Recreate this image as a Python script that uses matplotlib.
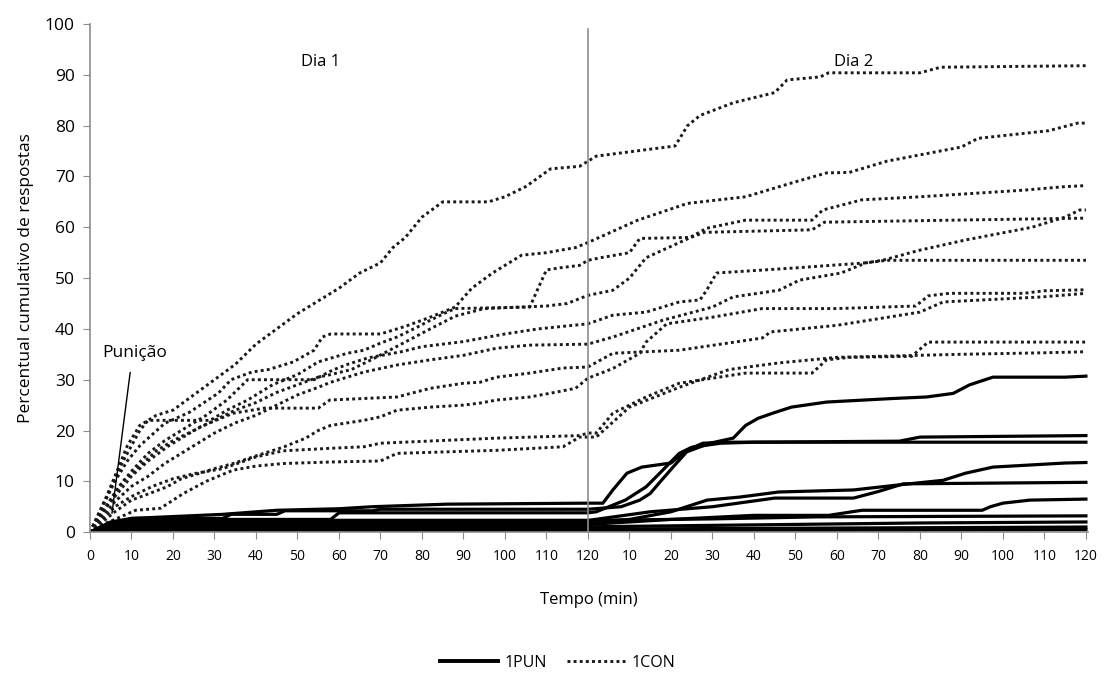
import numpy as np
import matplotlib
matplotlib.use("Agg")
import matplotlib.pyplot as plt

plt.rcParams['font.family'] = ['Open Sans', 'DejaVu Sans']

# eixo x: 0-120 = Dia 1, 120-240 = Dia 2 (min)
xtick_pos = list(range(0, 241, 10))
xtick_lab = [str(v) for v in range(0, 121, 10)] + [str(v) for v in range(10, 121, 10)]
ytick_pos = list(range(0, 101, 10))

# grupo 1CON (linhas pontilhadas)
con_t = [
    [0, 3, 6, 9, 12, 16, 20, 25, 30, 35, 40, 45, 50, 55, 60, 65, 70, 73, 76, 80, 85, 96, 100, 105, 111, 118, 122, 141, 144, 147, 155, 165, 168, 176, 178, 200, 205, 240],
    [0, 3, 6, 9, 12, 18, 24, 31, 34, 39, 43, 49, 54, 56, 58, 70, 76, 82, 88, 92, 97, 104, 110, 117, 120, 132, 144, 158, 169, 177.5, 183, 192, 210, 214, 231, 238, 240],
    [0, 4, 8, 12, 14, 29, 33, 38, 44, 50, 55, 62, 66, 70, 74, 79, 82, 86, 88, 106, 108, 110, 113, 118, 120, 123, 130, 132.5, 144.6, 148.6, 158, 174, 176.6, 186, 200, 225, 235, 240],
    [0, 3, 6, 10, 14, 18, 22, 26, 30, 35, 40, 45, 50, 55, 58, 66, 74, 82, 90, 98, 106, 120, 126, 138, 150, 155, 166, 171, 181, 187, 191, 200, 211, 227, 235, 238.5, 240],
    [0, 4, 8, 12, 16, 20, 25, 30, 35, 40, 45, 50, 55, 58, 63, 68, 75, 82, 88, 95, 110, 115, 120, 126, 130, 134, 138, 144.5, 148, 174, 177, 200, 240],
    [0, 3, 7, 10, 14, 18, 22, 28, 33, 38, 54, 58.5, 62, 67, 75, 80, 90, 100, 108, 120, 126, 134, 142, 147, 148.6, 151, 170, 187, 192, 240],
    [0, 3, 6, 10, 14, 18.5, 22, 26.5, 30, 34.5, 40, 46.5, 52, 55, 58, 66, 70, 74, 82, 90, 94, 98, 106, 112, 117, 120, 126, 132.5, 134, 139, 150, 162, 180, 199, 202, 207, 225, 230, 240],
    [0, 3, 6, 10, 14, 19, 26.5, 34.5, 42, 55, 57.8, 66, 74, 82, 90, 94, 98, 106, 114, 120, 126, 142, 162, 164, 180, 200, 205.6, 229.6, 240],
    [0, 3, 6, 10, 15, 20, 25, 32, 40, 46.5, 58, 66, 70, 98, 118, 120, 122, 126, 134, 142, 158, 174, 177.5, 183, 198, 202, 240],
    [0, 3, 6, 11, 17, 22.5, 28, 34.5, 40, 46.5, 58, 70, 74, 98, 114, 118, 122, 130, 142, 154, 166, 180, 190, 210, 230, 240],
]
con_v = [
    [0, 5, 11, 17, 21, 23, 24, 27, 30, 33, 37, 40, 43, 45.5, 48, 51, 53, 56, 58, 62, 65, 65, 66, 68, 71.5, 72, 74, 76, 80, 82, 84.5, 86.5, 89, 89.6, 90.4, 90.4, 91.5, 91.8],
    [0, 5, 10, 14, 17, 21.4, 23.6, 27.4, 30, 31.5, 32, 33.5, 35.8, 38.4, 39, 39, 40.5, 42.3, 44.3, 48, 51, 54.5, 55, 56, 57, 61.4, 64.7, 66, 68.7, 70.7, 70.8, 73, 75.8, 77.5, 79, 80.5, 80.5],
    [0, 7, 14, 20, 22, 22, 24, 26, 29, 31, 33.5, 35.2, 35.8, 37.2, 38.4, 40.4, 41.7, 43.3, 44, 44.3, 48, 51.6, 52, 52.5, 53.5, 54, 55, 57.8, 58, 59.8, 61.4, 61.4, 63.4, 65.4, 66, 67.3, 68, 68.2],
    [0, 3, 6, 9, 11, 13.5, 15.5, 17.5, 19.5, 21.5, 23, 25, 27, 28.5, 29.5, 31.5, 32.9, 33.9, 34.8, 36.2, 36.8, 37, 38.4, 41.7, 44.3, 46.3, 47.6, 49.6, 51, 53, 53.5, 55.5, 57.5, 60, 62, 63.4, 63.4],
    [0, 5, 10, 13, 16, 18, 20, 22, 24, 25.5, 27.5, 29, 30.5, 31, 32, 34, 37, 40, 42.5, 44, 44.5, 45, 46.6, 47.6, 50, 54, 55.5, 57.9, 59, 59.5, 61, 61.3, 61.8],
    [0, 4, 9, 12, 15.5, 18, 20, 23, 26, 30, 30, 31.9, 33, 34.3, 35.5, 36.5, 37.5, 39, 40, 41, 42.7, 43.3, 45.3, 45.7, 47.6, 51, 52, 53, 53.5, 53.5],
    [0, 2, 4, 6.3, 7.5, 8.9, 10.5, 11.6, 12.5, 13.5, 15, 16.7, 18.5, 20, 21, 22, 22.7, 24, 24.6, 25, 25.4, 26, 26.6, 27.5, 28.3, 30.3, 32.2, 35.2, 37.4, 41, 42.3, 44, 44, 44.5, 46.5, 47, 47, 47.5, 47.7],
    [0, 4, 7, 11, 14, 17, 20.7, 23.4, 24.4, 24.4, 26, 26.3, 26.6, 28.3, 29.3, 29.5, 30.5, 31.3, 32.3, 32.5, 35.2, 35.8, 38.2, 39.4, 40.7, 43.3, 45.3, 46.3, 47],
    [0, 2.5, 5, 7, 9, 10.5, 11.5, 12.5, 14.8, 16, 16.5, 16.8, 17.5, 18.5, 19, 19.5, 19.5, 23.4, 26.6, 29.3, 31.3, 31.3, 33.9, 34.4, 34.6, 37.4, 37.4],
    [0, 1.5, 2.5, 4.3, 4.7, 7.6, 10, 12.2, 13, 13.5, 13.8, 14, 15.5, 16.1, 16.8, 18.7, 18.7, 24.6, 28.5, 32, 33.3, 34.4, 34.6, 35, 35.3, 35.5],
]

# grupo 1PUN (linhas continuas)
pun_t = [
    [0, 5, 10, 32, 34, 45, 47, 68, 70, 120, 128, 132.5, 135, 137.3, 140.5, 143.8, 149.4, 155, 158, 161, 164.5, 169, 177.5, 193.5, 201.6, 208, 212, 217.6, 235, 240],
    [0, 6, 12, 58, 60, 120, 122, 129, 134, 137.3, 142, 145, 152, 160, 195, 200, 240],
    [0, 5, 10, 32, 45, 60, 68, 86, 120, 123.6, 126, 129.4, 133, 140, 143.8, 147.7, 153.5, 240],
    [0, 4, 10, 120, 130, 140, 148.7, 156.6, 166, 184, 195, 205.6, 211, 217.6, 235, 240],
    [0, 4, 10, 120, 135, 150, 165, 184, 190, 196, 240],
    [0, 4, 10, 120, 140, 160, 178, 186, 215, 217, 220, 226.5, 240],
    [0, 4, 10, 120, 150, 175, 240],
    [0, 3, 10, 120, 200, 240],
    [0, 3, 10, 120, 240],
    [0, 3, 10, 120, 240],
]
pun_v = [
    [0, 1.5, 2.7, 2.7, 3.5, 3.5, 4.2, 4.2, 4.5, 4.5, 5, 6.3, 7.6, 9.8, 12.8, 15.8, 17.5, 18.5, 21, 22.4, 23.4, 24.6, 25.6, 26.3, 26.6, 27.3, 29, 30.5, 30.5, 30.7],
    [0, 1.5, 2.5, 2.5, 3.8, 3.8, 4, 6.3, 8.9, 11.6, 15.5, 16.7, 17.5, 17.7, 17.9, 18.7, 19],
    [0, 2, 2.7, 3.5, 4.3, 4.6, 5, 5.5, 5.7, 5.7, 8.3, 11.6, 12.8, 13.6, 16.1, 17.5, 17.7, 17.7],
    [0, 1.3, 1.95, 1.95, 2.5, 4, 6.3, 6.9, 7.9, 8.3, 9.3, 10.2, 11.6, 12.8, 13.6, 13.7],
    [0, 1.5, 2.3, 2.3, 4, 5, 6.7, 6.7, 8, 9.5, 9.8],
    [0, 1, 1.5, 1.5, 2.5, 3.3, 3.3, 4.3, 4.3, 5, 5.7, 6.3, 6.5],
    [0, 1.4, 2.3, 2.3, 2.6, 3, 3.2],
    [0, 0.7, 1.05, 1.05, 1.8, 2],
    [0, 0.4, 0.6, 0.6, 1],
    [0, 0.1, 0.15, 0.15, 0.5],
]

fig = plt.figure(figsize=(11.04, 6.77), dpi=100)
ax = fig.add_axes([0.0815, 0.214, 0.904, 0.7505])

grey = "#8c8c8c"
for t, v in zip(con_t, con_v):
    ax.plot(t, v, color="#1a1a1a", lw=2.1, linestyle=(0, (1, 1.1)), solid_capstyle="butt")
for t, v in zip(pun_t, pun_v):
    ax.plot(t, v, color="black", lw=2.3, solid_joinstyle="miter")

ax.axvline(120, ymin=0, ymax=0.99, color=grey, lw=1.2)

ax.set_xlim(0, 240.5)
ax.set_ylim(0, 100)
ax.set_xticks(xtick_pos)
ax.set_xticklabels(xtick_lab, fontsize=10)
ax.set_yticks(ytick_pos)
ax.tick_params(axis="y", labelsize=12.5, length=5, color=grey, pad=6)
ax.tick_params(axis="x", length=5, color=grey, pad=7)
for s in ["top", "right"]:
    ax.spines[s].set_visible(False)
for s in ["left", "bottom"]:
    ax.spines[s].set_color(grey)
    ax.spines[s].set_linewidth(1.2)

ax.set_xlabel("Tempo (min)", fontsize=12, labelpad=20)
ax.set_ylabel("Percentual cumulativo de respostas", fontsize=12.5, labelpad=8)

ax.text(55.5, 92.5, "Dia 1", fontsize=12, ha="center", va="center")
ax.text(184, 92.5, "Dia 2", fontsize=12, ha="center", va="center")
ax.annotate("Punição", xy=(5.3, 3.7), xytext=(3.0, 35.2), fontsize=12.5, ha="left", va="center",
            arrowprops=dict(arrowstyle="-", color="black", lw=1.0, shrinkA=6, shrinkB=0,
                            relpos=(0.45, 0)))

h1, = ax.plot([], [], color="black", lw=2.8)
h2, = ax.plot([], [], color="#1a1a1a", lw=2.1, linestyle=(0, (1, 1.1)))
fig.legend([h1, h2], ["1PUN", "1CON"], loc="lower center", bbox_to_anchor=(0.505, -0.012),
           ncol=2, frameon=False, fontsize=11.5, handlelength=3.6, handletextpad=0.4, columnspacing=1.3)

fig.savefig("out.png", dpi=100, facecolor="white")
